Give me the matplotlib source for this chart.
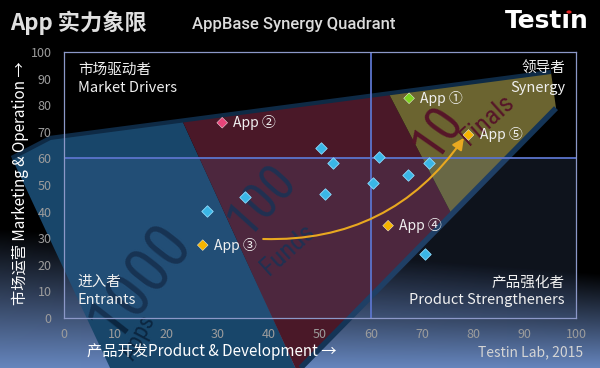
import numpy as np
import matplotlib
matplotlib.use("Agg")
import matplotlib.pyplot as plt
from matplotlib.patches import Polygon, Rectangle, Circle

plt.rcParams['font.family'] = ['Noto Sans CJK SC', 'DejaVu Sans']

# ---- data ----
other_x = [50.1, 52.5, 61.5, 71.3, 67.1, 60.4, 50.9, 28.0, 35.4, 70.6]
other_y = [63.8, 58.1, 60.6, 58.4, 53.8, 50.9, 46.5, 40.3, 45.6, 23.9]

app_names = ['App ①', 'App ②', 'App ③', 'App ④', 'App ⑤']
app_x = [67.4, 30.9, 27.1, 63.3, 79.0]
app_y = [82.6, 73.4, 27.4, 34.7, 68.8]
app_colors = ['#7ed321', '#e8457a', '#f5b400', '#f5b400', '#f5b400']

arrow_start = (38.9, 29.7)
arrow_end = (78.1, 67.7)

ticks = list(range(0, 101, 10))

# the funnel bands (data units, running off the axes)
band_blue = [(-10.2, 60.2), (-2.7, 67.7), (23.1, 74.2), (45.2, -18.8), (9.0, -18.8)]
band_red = [(23.1, 74.2), (63.4, 84.5), (75.7, 39.1), (46.2, -18.8), (45.2, -18.8)]
band_yellow = [(63.4, 84.5), (95.1, 92.5), (96.1, 78.9), (75.7, 39.1)]
band_top = [(-10.2, 60.2), (-2.7, 67.7), (95.1, 92.5)]
band_edge = [(96.1, 78.9), (46.2, -18.8)]

# watermark words: text, x, y, size, angle, colour
marks = [
    ('1000', 14.9, 14.0, 46, 52, '#0b2640'),
    ('Apps', 14.5, -7.5, 17, 62, '#0b2640'),
    ('100', 38.7, 44.4, 37, 48, '#15243f'),
    ('Funds', 43.8, 25.6, 19, 42, '#15243f'),
    ('10', 73.2, 69.9, 37, 55, '#561528'),
    ('Finals', 82.8, 74.4, 19, 42, '#561528'),
]

quadrants = [
    ('市场驱动者', 'Market Drivers', 2.7, 'left', 93.2, 86.5),
    ('领导者', 'Synergy', 98.0, 'right', 93.6, 86.5),
    ('进入者', 'Entrants', 2.7, 'left', 13.5, 6.8),
    ('产品强化者', 'Product Strengtheners', 97.8, 'right', 13.2, 6.8),
]

# ---- figure ----
fig = plt.figure(figsize=(6, 3.68), dpi=100)
fig.patch.set_facecolor('black')

# background gradient: black on top, steel blue at the bottom
H, W = 368, 600
yy, xx = np.mgrid[0:H, 0:W]
y0 = 228 + 45 * xx / W
t = np.clip((yy - y0) / (H - y0), 0, 1)
bot = np.array([0x66, 0x86, 0xbe]) / 255
img = t[..., None] * bot
bg = fig.add_axes([0, 0, 1, 1], zorder=-10)
bg.imshow(img, aspect='auto')
bg.axis('off')

ax = fig.add_axes([64 / 600, 1 - 318 / 368, 512 / 600, 266 / 368])
ax.set_facecolor('none')
ax.set_xlim(0, 100)
ax.set_ylim(0, 100)

ax.add_patch(Polygon(band_blue, closed=True, fc='#18466a', ec='none', zorder=0.5, clip_on=False))
ax.add_patch(Polygon(band_red, closed=True, fc='#4a1828', ec='none', zorder=0.5, clip_on=False))
ax.add_patch(Polygon(band_yellow, closed=True, fc='#6b6430', ec='none', zorder=0.5, clip_on=False))
bx, by = zip(*band_top)
ax.plot(bx, by, color='#0e2a45', lw=3, zorder=0.55, clip_on=False, solid_capstyle='butt')
ex, ey = zip(*band_edge)
ax.plot(ex, ey, color='#143456', lw=4, zorder=0.55, clip_on=False, solid_capstyle='butt')

for word, x, y, size, ang, col in marks:
    ax.text(x, y, word, fontsize=size, rotation=ang, color=col, family='Roboto Condensed',
            ha='center', va='center', rotation_mode='anchor', zorder=0.7)

# light veil over the lower half
ax.add_patch(Rectangle((0, 0), 100, 60, fc='#6080c0', alpha=0.15, ec='none', zorder=0.8))

ax.axvline(60, color='#5b74cc', lw=1.3, zorder=1.6)
ax.axhline(60, color='#5b74cc', lw=1.3, zorder=1.6)

for s in ax.spines.values():
    s.set_color('#8c98c8')
    s.set_linewidth(0.9)

ax.set_xticks(ticks)
ax.set_yticks(ticks)
ax.tick_params(length=0, labelsize=9, labelcolor='#9c9c9c')
ax.tick_params(axis='x', pad=7)
ax.tick_params(axis='y', pad=9)

# points
ax.scatter(other_x, other_y, marker='D', s=34, c='#3ab6e6', edgecolors='#8fdcff', linewidths=0.6, zorder=3)
ax.scatter(app_x, app_y, marker='D', s=30, c=app_colors, edgecolors='#ffffff', linewidths=0.3, zorder=3)
for name, x, y in zip(app_names, app_x, app_y):
    ax.annotate(name, (x, y), xytext=(8, 0), textcoords='offset points', ha='left', va='center',
                fontsize=10, color='#f0f0f0', zorder=4)

ax.annotate('', xy=arrow_end, xytext=arrow_start,
            arrowprops=dict(arrowstyle='-|>', color='#e8a820', lw=1.5, mutation_scale=17,
                            connectionstyle='arc3,rad=0.27', shrinkA=0, shrinkB=0), zorder=3.5)

for cn, en, x, ha, yc, ye in quadrants:
    ax.text(x, yc, cn, ha=ha, va='center', fontsize=10.5, color='#f0f0f0', zorder=4)
    ax.text(x, ye, en, ha=ha, va='center', fontsize=10.5, color='#f0f0f0', zorder=4)

# texts around
fig.text(10 / 600, 1 - 23 / 368, 'App 实力象限', fontsize=16, fontweight='bold', color='#e0e0e0',
         ha='left', va='center')
fig.text(294 / 600, 1 - 25 / 368, 'AppBase Synergy Quadrant', fontsize=12, color='#dcdcdc',
         ha='center', va='center', family='Roboto', fontweight='medium')
fig.text(505 / 600, 1 - 21 / 368, 'Testın', fontsize=18, fontweight='bold', color='white',
         ha='left', va='center', family='DejaVu Sans')
fig.patches.append(Circle((569 / 600, 1 - 12 / 368), 2.6 / 600, transform=fig.transFigure,
                          fc='#e02020', ec='none'))
fig.text(212 / 600, 1 - 352 / 368, '产品开发Product & Development →', fontsize=11, color='white',
         ha='center', va='center')
fig.text(20 / 600, 1 - 183 / 368, '市场运营 Marketing & Operation →', fontsize=11, color='white',
         ha='center', va='center', rotation=90)
fig.text(583 / 600, 1 - 352 / 368, 'Testin Lab, 2015', fontsize=10, color='#d4d4d4',
         ha='right', va='center')

fig.savefig('out.png', dpi=100, facecolor=fig.get_facecolor())
